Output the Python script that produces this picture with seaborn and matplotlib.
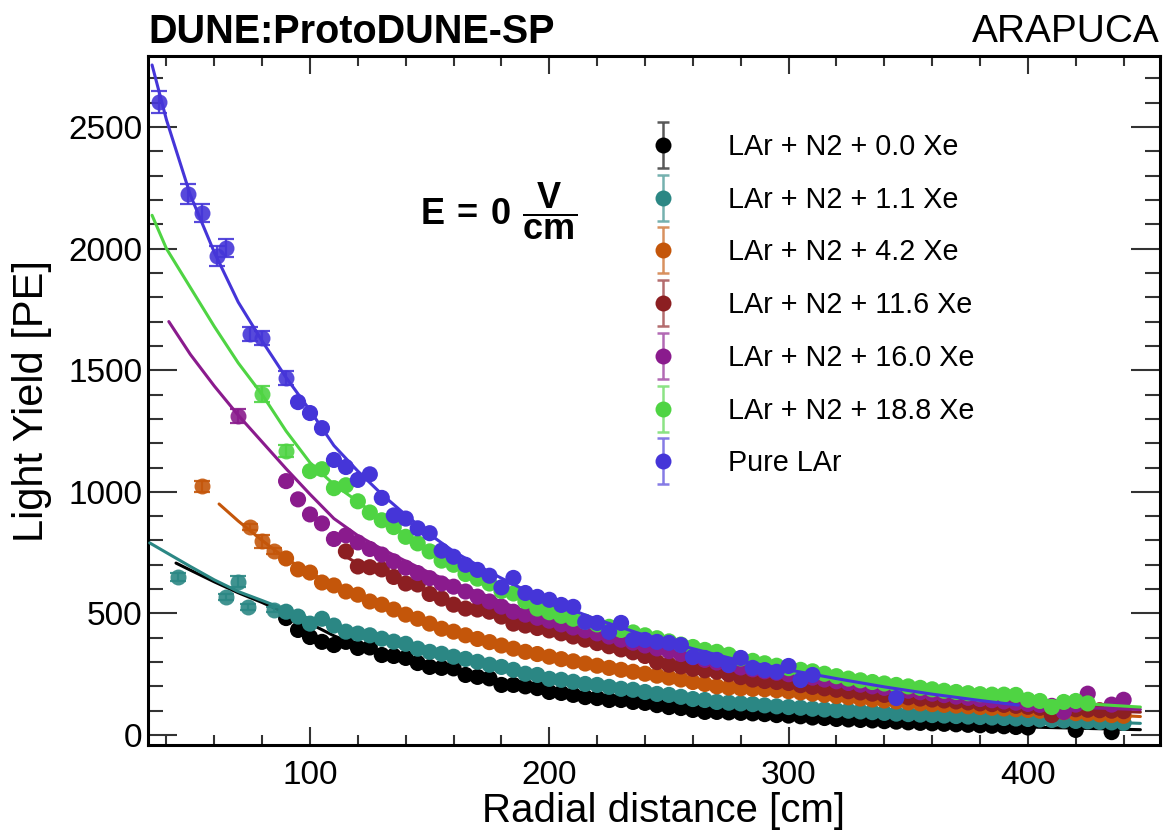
import numpy as np
import pandas as pd
import matplotlib
matplotlib.use("Agg")
import matplotlib.pyplot as plt
import seaborn as sns
from matplotlib.ticker import MultipleLocator
from matplotlib.lines import Line2D
from matplotlib.path import Path
from matplotlib.legend_handler import HandlerTuple

# dense scan grid [cm]
R_GRID = [90, 95, 100, 105, 110, 115, 120, 125, 130, 135, 140, 145, 150, 155, 160, 165,
          170, 175, 180, 185, 190, 195, 200, 205, 210, 215, 220, 225, 230, 235, 240, 245,
          250, 255, 260, 265, 270, 275, 280, 285, 290, 295, 300, 305, 310, 315, 320, 325,
          330, 335, 340, 345, 350, 355, 360, 365, 370, 375, 380, 385, 390, 395, 400, 405,
          410, 415, 420, 425, 430, 435, 440]
nan = np.nan

# light yield [PE] on the grid
LY_XE00 = [481, 432, 403, 383, 370, 383, 358, 360, 329, 325, 317, 296, 280, 276, 274, 247,
           239, 233, 206, 206, 200, 193, 177, 173, 165, 156, 152, 144, 144, 136, 132, 123,
           115, 111, 103, 95, 95, 93, 91, 89, 86, 82, 80, 77, 72, 70, 66, 64,
           62, 60, 57, 55, 52, 50, 48, 46, 44, 42, 40, 38, 36, 33, 31, nan,
           nan, nan, 21, nan, nan, 12, nan]
LY_XE11 = [507, 487, 458, 478, 450, 425, 417, 410, 396, 384, 375, 355, 342, 334, 322, 313,
           301, 289, 280, 268, 252, 247, 231, 227, 219, 210, 206, 198, 190, 186, 177, 169,
           165, 157, 148, 144, 136, 133, 130, 127, 122, 118, 115, 112, 108, 105, 102, 100,
           97, 94, 91, 88, 86, 84, 82, 80, 78, 76, 74, 72, 70, 68, 66, 64,
           62, 60, 58, 56, 54, 52, 50]
LY_XE42 = [726, 681, 668, 627, 615, 590, 577, 549, 536, 516, 495, 478, 458, 437, 425, 410,
           395, 382, 368, 355, 342, 333, 322, 312, 303, 294, 285, 276, 268, 260, 252, 244,
           236, 228, 218, 210, 200, 195, 192, 190, 188, 184, 180, 175, 170, 165, 160, 155,
           150, 146, 142, 138, 134, 130, 127, 124, 121, 118, 115, 112, 109, 106, 103, 100,
           97, 94, 90, 88, 85, 82, 79]
LY_XE116 = [nan, nan, nan, nan, nan, 755, 693, 690, 681, 650, 623, 619, 580, 561, 536, 520,
            516, 507, 487, 458, 450, 440, 430, 418, 405, 392, 378, 365, 352, 340, 325, 300,
            289, 282, 272, 266, 260, 250, 238, 228, 222, 218, 214, 205, 198, 192, 186, 180,
            175, 170, 165, 160, 155, 150, 146, 142, 138, 134, 130, 127, 124, 120, 116, 112,
            82, 110, 106, 104, 102, 100, 98]
LY_XE160 = [1044, 969, 907, 870, 806, 821, 792, 765, 742, 714, 688, 666, 645, 623, 610, 590,
            569, 549, 528, 507, 495, 482, 470, 455, 442, 430, 418, 405, 392, 380, 368, 356,
            345, 333, 320, 309, 298, 287, 278, 270, 262, 256, 250, 244, 236, 228, 221, 214,
            207, 200, 194, 188, 182, 176, 170, 164, 158, 153, 148, 143, 138, 133, 128, 124,
            120, 95, 125, 170, nan, 125, 145]
LY_XE188 = [nan, nan, 1085, 1093, 1015, 1027, 961, 915, 883, 855, 815, 788, 755, 717, 700, 662,
            643, 623, 592, 582, 550, 520, 505, 490, 478, 466, 455, 445, 432, 422, 410, 398,
            385, 372, 362, 350, 342, 330, 315, 305, 295, 285, 275, 268, 262, 252, 242, 232,
            225, 218, 212, 206, 200, 194, 188, 182, 177, 172, 168, 166, 166, 165, 145, 140,
            115, 136, 140, 130, nan, nan, nan]
LY_PURE = [nan, 1369, 1324, 1262, 1131, 1102, 1049, 1072, 975, 903, 890, 850, 830, 758, 733, 700,
           679, 655, 607, 646, 584, 568, 556, 535, 527, 465, 461, 424, 461, 391, 391, 383,
           379, 370, 321, 317, 309, 288, 317, 276, 267, 260, 284, 226, 247, nan, nan, nan,
           nan, nan, nan, 152, nan, nan, nan, nan, nan, nan, nan, nan, nan, nan, nan, nan,
           nan, nan, nan, nan, nan, nan, nan]

# sparse points close to the detector, with their errors
EARLY_R_XE11 = [45, 65, 70, 74, 85]
EARLY_LY_XE11 = [650, 569, 631, 528, 516]
EARLY_ERR_XE11 = [18, 12, 22, 12, 10]
EARLY_R_XE42 = [55, 75, 80, 85]
EARLY_LY_XE42 = [1022, 855, 796, 755]
EARLY_ERR_XE42 = [22, 14, 28, 12]
EARLY_R_XE160 = [70]
EARLY_LY_XE160 = [1312]
EARLY_ERR_XE160 = [28]
EARLY_R_XE188 = [80, 90]
EARLY_LY_XE188 = [1402, 1167]
EARLY_ERR_XE188 = [32, 25]
EARLY_R_PURE = [37, 49, 55, 61, 65, 75, 80, 90]
EARLY_LY_PURE = [2603, 2225, 2147, 1970, 2003, 1649, 1632, 1468]
EARLY_ERR_PURE = [45, 40, 38, 42, 36, 30, 30, 30]

# fitted curves
FIT_R_XE00 = [44, 50, 60, 70, 80, 90, 100, 110, 120, 130, 140, 150, 160, 175, 190, 200, 225,
              250, 275, 300, 325, 350, 375, 400, 425, 447]
FIT_LY_XE00 = [707, 678, 630, 585, 545, 500, 458, 408, 368, 338, 313, 290, 266, 234, 202, 186,
               150, 120, 98, 82, 66, 53, 42, 33, 27, 22]
FIT_R_XE11 = [33, 40, 50, 60, 70, 80, 90, 100, 110, 120, 130, 140, 150, 160, 175, 190, 200,
              225, 250, 275, 300, 325, 350, 375, 400, 425, 447]
FIT_LY_XE11 = [790, 750, 693, 638, 590, 553, 515, 478, 445, 415, 395, 372, 345, 322, 290, 255,
               235, 200, 165, 136, 116, 100, 86, 75, 65, 56, 48]
FIT_R_XE42 = [62, 70, 80, 90, 100, 110, 120, 130, 140, 150, 160, 175, 190, 200, 225, 250, 275,
              300, 325, 350, 375, 400, 425, 447]
FIT_LY_XE42 = [950, 880, 800, 725, 668, 615, 572, 534, 496, 460, 430, 388, 345, 325, 278, 235,
               196, 180, 155, 134, 116, 101, 87, 76]
FIT_R_XE116 = [113, 120, 130, 140, 150, 160, 175, 190, 200, 225, 250, 275, 300, 325, 350, 375,
               400, 425, 447]
FIT_LY_XE116 = [745, 705, 672, 628, 583, 543, 500, 455, 432, 368, 300, 250, 212, 180, 153, 130,
                114, 102, 94]
FIT_R_XE160 = [41, 50, 60, 70, 80, 90, 100, 110, 120, 130, 140, 150, 160, 175, 190, 200, 225,
               250, 275, 300, 325, 350, 375, 400, 425, 447]
FIT_LY_XE160 = [1700, 1565, 1435, 1315, 1205, 1095, 990, 890, 820, 765, 715, 667, 625, 568, 508,
                480, 412, 355, 298, 252, 214, 182, 153, 128, 112, 105]
FIT_R_XE188 = [34, 40, 50, 60, 70, 80, 90, 100, 110, 120, 130, 140, 150, 160, 175, 190, 200,
               225, 250, 275, 300, 325, 350, 375, 400, 425, 447]
FIT_LY_XE188 = [2137, 2000, 1840, 1680, 1530, 1400, 1250, 1120, 1030, 960, 885, 820, 758, 700,
                625, 555, 515, 445, 385, 330, 280, 235, 200, 172, 148, 128, 115]
FIT_R_PURE = [34, 40, 50, 60, 70, 80, 90, 100, 110, 120, 130, 140, 150, 160, 175, 190, 200,
              220, 240, 260, 280, 300, 320, 340, 360, 380, 396]
FIT_LY_PURE = [2755, 2530, 2220, 1985, 1780, 1620, 1470, 1335, 1190, 1085, 990, 905, 825, 755,
               670, 595, 550, 475, 410, 355, 305, 268, 232, 198, 168, 142, 123]

LABELS = ["LAr + N2 + 0.0 Xe", "LAr + N2 + 1.1 Xe", "LAr + N2 + 4.2 Xe", "LAr + N2 + 11.6 Xe",
          "LAr + N2 + 16.0 Xe", "LAr + N2 + 18.8 Xe", "Pure LAr"]
COLORS = ["#000000", "#2b8784", "#c4560a", "#8c1f22", "#8a1b8d", "#4fd443", "#4535d8"]

series = [
    (LY_XE00, [], [], [], FIT_R_XE00, FIT_LY_XE00),
    (LY_XE11, EARLY_R_XE11, EARLY_LY_XE11, EARLY_ERR_XE11, FIT_R_XE11, FIT_LY_XE11),
    (LY_XE42, EARLY_R_XE42, EARLY_LY_XE42, EARLY_ERR_XE42, FIT_R_XE42, FIT_LY_XE42),
    (LY_XE116, [], [], [], FIT_R_XE116, FIT_LY_XE116),
    (LY_XE160, EARLY_R_XE160, EARLY_LY_XE160, EARLY_ERR_XE160, FIT_R_XE160, FIT_LY_XE160),
    (LY_XE188, EARLY_R_XE188, EARLY_LY_XE188, EARLY_ERR_XE188, FIT_R_XE188, FIT_LY_XE188),
    (LY_PURE, EARLY_R_PURE, EARLY_LY_PURE, EARLY_ERR_PURE, FIT_R_PURE, FIT_LY_PURE),
]

sns.set_theme(style="ticks")
plt.rcParams['font.family'] = ['Liberation Sans', 'DejaVu Sans']
plt.rcParams['mathtext.fontset'] = 'custom'
plt.rcParams['mathtext.rm'] = 'Liberation Sans'
plt.rcParams['mathtext.bf'] = 'Liberation Sans:bold'
plt.rcParams['text.color'] = 'black'
plt.rcParams['axes.labelcolor'] = 'black'

fig = plt.figure(figsize=(11.65, 8.3), dpi=100)
ax = fig.add_axes([148 / 1165, 85 / 830, 1012 / 1165, 689 / 830])

# "I" shaped marker used for the error bar in the legend
ibar = Path([(-0.25, -1), (0.25, -1), (0, -1), (0, 1), (-0.25, 1), (0.25, 1)],
            [Path.MOVETO, Path.LINETO, Path.MOVETO, Path.LINETO, Path.MOVETO, Path.LINETO])

handles = []
for i, ((ly, er, ely, eerr, fr, fly), color, label) in enumerate(zip(series, COLORS, LABELS)):
    z = 3 + i
    sns.lineplot(x=fr, y=fly, color=color, lw=2.2, ax=ax, sort=False,
                 estimator=None, zorder=z)
    df = pd.DataFrame({'r': R_GRID, 'ly': ly}).dropna()
    sns.scatterplot(data=df, x='r', y='ly', color=color, s=135, edgecolor='none',
                    linewidth=0, ax=ax, zorder=z + 0.2, legend=False)
    if len(er):
        ax.errorbar(er, ely, yerr=eerr, fmt='o', ms=11.5, color=color, mec='none',
                    ecolor=color, elinewidth=1.6, capsize=6, capthick=1.6, alpha=0.9,
                    zorder=z + 0.2)
    bar = Line2D([], [], ls='none', marker=ibar, ms=33, mfc='none', mec=color,
                 mew=1.8, alpha=0.65)
    dot = Line2D([], [], ls='none', marker='o', ms=11.5, color=color, mec='none')
    handles.append((bar, dot))

ax.set_xlim(32.3, 455.2)
ax.set_ylim(-41, 2792)
ax.xaxis.set_major_locator(MultipleLocator(100))
ax.xaxis.set_minor_locator(MultipleLocator(20))
ax.yaxis.set_major_locator(MultipleLocator(500))
ax.yaxis.set_minor_locator(MultipleLocator(100))

for s in ax.spines.values():
    s.set_linewidth(2.2)
    s.set_color('black')
ax.tick_params(which='both', direction='in', top=True, right=True, colors='#333333',
               width=1.5, labelcolor='black', labelsize=24)
ax.xaxis.set_tick_params(which='major', length=13, pad=11)
ax.xaxis.set_tick_params(which='minor', length=7)
ax.yaxis.set_tick_params(which='major', length=21, pad=4)
ax.yaxis.set_tick_params(which='minor', length=11)

ax.set_xlabel('Radial distance [cm]', fontsize=29, color='black')
ax.xaxis.set_label_coords((663 - 148) / 1012, -(792 - 745) / 689)
ax.set_ylabel('Light Yield [PE]', fontsize=30, color='black')
ax.yaxis.set_label_coords(-(148 - 52) / 1012, 0.5)

fig.text(148 / 1165, 1 - 32 / 830, 'DUNE:ProtoDUNE-SP', fontsize=28.5, fontweight='bold',
         ha='left', va='center', color='black')
fig.text(1160 / 1165, 1 - 32 / 830, 'ARAPUCA', fontsize=28, ha='right', va='center',
         color='black')
fig.text(420 / 1165, 1 - 211 / 830, r'$\mathbf{E\,=\,0}\ \dfrac{\mathbf{V}}{\mathbf{cm}}$',
         fontsize=26, ha='left', va='center', color='black')

leg = ax.legend(handles, LABELS, loc='upper left', frameon=False, fontsize=20.7,
                bbox_to_anchor=(649 / 1165, 1 - 133 / 830), bbox_transform=fig.transFigure,
                handlelength=1.0, handletextpad=1.75, labelspacing=0.86, borderpad=0,
                borderaxespad=0, handler_map={tuple: HandlerTuple(ndivide=1)})
for t in leg.get_texts():
    t.set_color('black')

fig.savefig('out.png', dpi=100)
